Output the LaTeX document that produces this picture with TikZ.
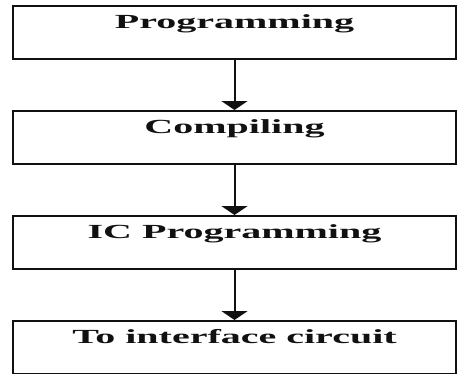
\documentclass[tikz,border=0pt]{standalone}
\usepackage{fontspec}
\setmainfont{Liberation Serif}[FakeStretch=2.0]
\usepackage{tikz}
\usetikzlibrary{positioning,arrows.meta}
\definecolor{ink}{HTML}{111111}
\tikzset{
  % --- nodes
  stage/.style = {draw=ink, line width=2pt, fill=white, inner xsep=0pt, inner ysep=0pt,
                  minimum width=443pt, text height=22pt, text depth=31pt,
                  font=\fontsize{20}{24}\selectfont\bfseries, text=ink},
  % --- edges
  e/.style     = {-{Triangle[width=26pt,length=9pt]}, line width=2pt, draw=ink},
}
\begin{document}
\begin{tikzpicture}[x=1pt,y=1pt,node distance=50pt]
  \useasboundingbox (0,0) rectangle (460,-373);
  \node[stage] (prog) at (234.5,-32.5) {Programming};
  \node[stage, below=of prog] (comp) {Compiling};
  \node[stage, below=of comp] (icprog) {IC Programming};
  \node[stage, below=of icprog] (iface) {To interface circuit};
  \draw[e] (prog)--(comp); \draw[e] (comp)--(icprog); \draw[e] (icprog)--(iface);
\end{tikzpicture}
\end{document}
